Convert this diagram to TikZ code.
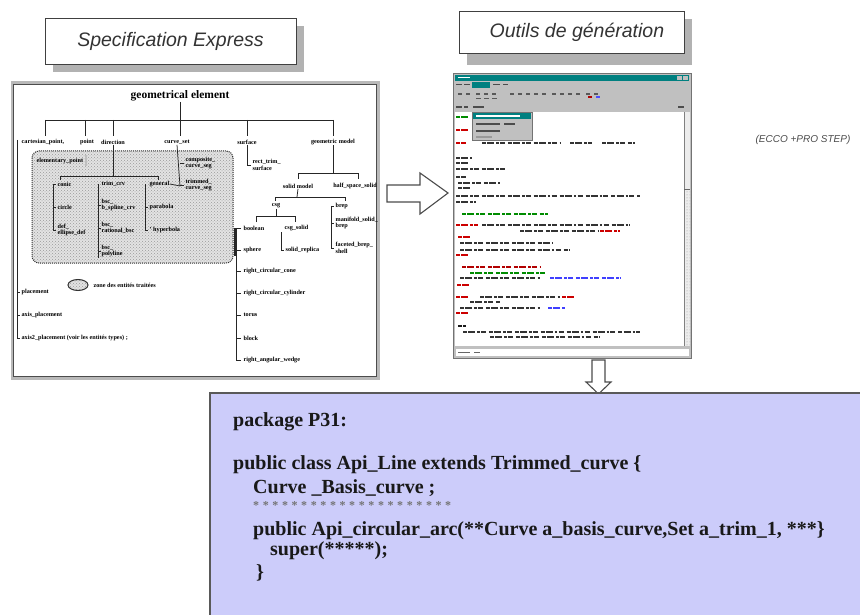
\documentclass[tikz,border=0pt]{standalone}
\usepackage{fontspec}
\setmainfont{Liberation Serif}
\newfontfamily\titlefont{Liberation Sans}
\usetikzlibrary{patterns}

\definecolor{codebg}{RGB}{204,204,250}
\definecolor{winteal}{RGB}{0,128,128}
\definecolor{wingray}{RGB}{192,192,192}

\begin{document}
\begin{tikzpicture}[x=1pt,y=-1pt,
  rootlbl/.style={font=\fontsize{11.5}{12}\selectfont\bfseries, inner sep=0.5pt},
  tl/.style={font=\fontsize{6.2}{6.4}\selectfont\bfseries, inner sep=0.4pt, align=left, anchor=west},
  tlc/.style={tl, anchor=center},
  branch/.style={line width=0.75pt, black!85},
  titlebox/.style={draw=black!75, line width=0.9pt, fill=white, inner sep=0,
    font=\titlefont\itshape\fontsize{19.5}{22}\selectfont, text=black!80},
  codeline/.style={font=\fontsize{20}{22}\selectfont\bfseries, anchor=west, inner sep=0, text=black!90},
  scr/.style={line width=1.5pt, dash pattern=on 4pt off 1.2pt on 7pt off 2pt on 2.5pt off 1.2pt on 5pt off 3pt},
  bigarrow/.style={draw=black!70, line width=1.1pt, fill=white, line join=miter},
]
\useasboundingbox (0,0) rectangle (860,615);
\clip (0,0) rectangle (860,615);
\fill[white] (0,0) rectangle (860,615);

% ---------- title boxes with drop shadows ----------
\fill[gray!60] (53,26) rectangle (304,72);
\node[titlebox, minimum width=251pt, minimum height=46pt] (spec) at (170.5,41) {Specification Express};
\fill[gray!60] (467,19) rectangle (692,65);
\node[titlebox, minimum width=225pt, minimum height=42pt, anchor=west] (gen) at (459,32) {\hspace{10pt}Outils de génération\hfill};

% ---------- schema frame ----------
\draw[gray!55, line width=3pt] (12,83) rectangle (378,378);
\draw[black!70, line width=0.6pt] (13.5,84.5) rectangle (376.5,376.5);

% shaded sub-schema zone
\fill[gray!22, rounded corners=7pt] (32,151) rectangle (233,263);
\fill[pattern=crosshatch dots, pattern color=gray!80, rounded corners=7pt] (32,151) rectangle (233,263);
\draw[black!80, line width=1pt, densely dotted, rounded corners=7pt] (32,151) rectangle (233,263);

% root and first level
\node[rootlbl] (root) at (180,96) {geometrical element};
\draw[branch] (root.south) -- (180,120);
\draw[branch] (45,120) -- (333,120);
\foreach \xx in {45,85,113,180,247,333} \draw[branch] (\xx,120) -- (\xx,136);
\node[tlc] (c1) at (43,142) {cartesian\_point,};
\node[tlc] (c2) at (87,142) {point};
\node[tlc] (c3) at (113,142) {direction};
\node[tlc] (c4) at (177,142) {curve\_set};
\node[tlc] (c5) at (247,142) {surface};
\node[tlc] (c6) at (333,142) {geometric model};

% left column under cartesian_point
\draw[branch] (17,140) -- (17,338);
\foreach \yy in {292,315,338} \draw[branch] (17,\yy) -- (20,\yy);
\node[tl] (p1) at (21,292) {placement};
\node[tl] (p2) at (21,315) {axis\_placement};
\node[tl] (p3) at (21,338) {axis2\_placement (voir les entités types) ;};

% inside the zone
\node[tl] (ep) at (36,161) {elementary\_point};
\draw[gray!50, line width=1.5pt] (86,155) -- (86,166);
\draw[branch] (c3.south) -- (113,176);
\draw[branch] (60,176) -- (158,176);
\draw[branch] (60,176) -- (60,180);
\draw[branch] (158,176) -- (158,180);
\node[tl] (k1) at (57,184) {conic};
\node[tl] (k2) at (101,184) {trim\_crv};
\node[tl] (k3) at (149,184) {general};
% conic column
\draw[branch] (53,184) -- (53,230);
\foreach \yy in {184,207,230} \draw[branch] (53,\yy) -- (56,\yy);
\node[tl] (k11) at (57,207) {circle};
\node[tl] (k12) at (57,230) {def\_\\ellipse\_def};
% trimmed column
\draw[branch] (98,184) -- (98,258);
\foreach \yy in {205,228,251} \draw[branch] (98,\yy) -- (101,\yy);
\node[tl] (k21) at (101,205) {bsc\_\\b\_spline\_crv};
\node[tl] (k22) at (101,228) {bsc\_\\rational\_bsc};
\node[tl] (k23) at (101,251) {bsc\_\\polyline};
% general column
\draw[branch] (145,184) -- (145,230);
\foreach \yy in {207,230} \draw[branch] (145,\yy) -- (148,\yy);
\node[tl] (k31) at (149,207) {parabola};
\node[tl] (k32) at (149,230) {' hyperbola};
% curve_set branch
\draw[branch] (c4.south) -- (180,186) -- (k3.east);
\foreach \yy in {163,185} \draw[branch] (180,\yy) -- (184,\yy);
\node[tl] (k41) at (185,163) {composite\_\\curve\_seg};
\node[tl] (k42) at (185,185) {trimmed\_\\curve\_seg};
% surface branch
\draw[branch] (c5.south) -- (247,165) -- (251,165);
\node[tl] (s1) at (252,165) {rect\_trim\_\\surface};

% geometric model branch
\draw[branch] (c6.south) -- (333,173);
\draw[branch] (298,179) -- (298,173) -- (358,173) -- (358,179);
\node[tlc] (m1) at (298,186) {solid model};
\node[tlc] (m2) at (355,186) {half\_space\_solid};
\draw[branch] (m1.south) -- (297,197);
\draw[branch] (275,201) -- (275,197) -- (345,197) -- (345,201);
\node[tlc] (csg) at (276,206) {csg};
\node[tl] (brep) at (335,206) {brep};
\draw[branch] (331,206) -- (331,248);
\foreach \yy in {206,223,248} \draw[branch] (331,\yy) -- (334,\yy);
\node[tl] (b2) at (335,223) {manifold\_solid\_\\brep};
\node[tl] (b3) at (335,248) {faceted\_brep\_\\shell};
\draw[branch] (csg.south) -- (276,216);
\draw[branch] (256,222) -- (256,216) -- (295,216) -- (295,222);
\node[tl] (g1) at (243,228) {boolean};
\node[tl] (g2) at (284,228) {csg\_solid};
\draw[branch] (281,232) -- (281,250) -- (284,250);
\node[tl] (g3) at (285,250) {solid\_replica};
% primitives column
\draw[branch] (236,228) -- (236,360);
\draw[branch, line width=1.4pt] (235,228) -- (235,256);
\foreach \yy in {228,250,271,293,315,338,360} \draw[branch] (236,\yy) -- (241,\yy);
\node[tl] (q1) at (243,250) {sphere};
\node[tl] (q2) at (243,271) {right\_circular\_cone};
\node[tl] (q3) at (243,293) {right\_circular\_cylinder};
\node[tl] (q4) at (243,315) {torus};
\node[tl] (q5) at (243,338) {block};
\node[tl] (q6) at (243,360) {right\_angular\_wedge};

% legend
\fill[gray!22] (78,285) ellipse [x radius=10, y radius=5.5];
\fill[pattern=crosshatch dots, pattern color=gray!80] (78,285) ellipse [x radius=10, y radius=5.5];
\draw[black!80, line width=1pt] (78,285) ellipse [x radius=10, y radius=5.5];
\node[tl] (leg) at (93,285) {zone des entités traitées};

% ---------- arrow to the tool ----------
\draw[bigarrow] (387,185) -- (420,185) -- (420,173) -- (448,193) -- (420,214) -- (420,202) -- (387,202) -- cycle;

% ---------- generation tool window ----------
\fill[wingray] (453,73) rectangle (691,358);
\draw[black!55, line width=0.6pt] (453,73) rectangle (691,358);
\fill[winteal] (455,75) rectangle (689,81);
\draw[white, line width=1pt] (458,78) -- (470,78);
\fill[wingray] (677,76) rectangle (682,80);
\fill[wingray] (683,76) rectangle (688,80);
% menu bar
\fill[winteal] (472,82) rectangle (490,88);
\foreach \xa/\xb in {456/462,464/470,493/500,503/508}
  \draw[black!70, line width=1pt] (\xa,85) -- (\xb,85);
% tool bar
\foreach \xa in {458,466,476,484,492,510,518,526,534,542,552,560,568,576,586,594}
  \draw[black!65, line width=1.6pt] (\xa,94) -- (\xa+4,94);
\draw[red!70!black, line width=1.6pt] (588,97) -- (592,97);
\draw[blue!70, line width=1.6pt] (596,97) -- (600,97);
\foreach \xa in {476,484,492}
  \draw[black!65, line width=1pt] (\xa,99) -- (\xa+5,99);
% label row
\foreach \xa/\xb in {456/462,464/468,473/484}
  \draw[black!70, line width=1.2pt] (\xa,107) -- (\xb,107);
\draw[black!70, line width=1.2pt] (678,107) -- (684,107);
% editor area
\fill[white] (455,112) rectangle (684,346);
\fill[white!85!gray] (684,112) rectangle (690,346);
\fill[pattern=dots, pattern color=gray!80] (684,190) rectangle (690,346);
\draw[black!50, line width=0.5pt] (684,112) -- (684,346);
\draw[black!60, line width=1pt] (684,190) -- (690,190);
% status bar
\fill[white] (456,349) rectangle (689,356);
\draw[black!60, line width=1pt] (458,352.5) -- (470,352.5);
\draw[black!60, line width=1pt] (474,352.5) -- (480,352.5);
% source listing (illegible at this scale)
\foreach \yy/\xa/\xb/\cc in {
  117/456/470/green!55!black, 130/456/468/red!80!black,
  143/456/466/red!80!black, 143/482/560/black!80, 143/570/592/black!80, 143/602/635/black!80,
  158/456/472/black!80, 163/456/470/black!80, 169/456/505/black!80,
  177/456/466/black!80, 183/458/500/black!80, 188/458/470/black!80,
  196/456/640/black!80, 202/456/476/black!80,
  214/462/548/green!55!black,
  225/456/478/red!80!black, 225/482/630/black!80,
  231/520/598/black!80, 231/600/620/red!80!black,
  237/458/470/red!80!black, 243/460/552/black!80, 250/460/570/black!80,
  255/456/470/red!80!black,
  267/462/540/red!70!black, 273/470/545/green!55!black,
  278/460/540/black!80, 278/550/620/blue!75,
  285/457/470/red!80!black,
  297/456/470/red!80!black, 297/480/560/black!80, 297/562/575/red!80!black,
  302/470/500/black!80, 308/460/540/black!80, 308/548/565/blue!75,
  313/456/470/red!80!black,
  326/458/466/black!90, 332/463/640/black!80, 337/490/600/black!80}
  \draw[\cc, scr] (\xa,\yy) -- (\xb,\yy);
% open menu
\fill[wingray] (472,112) rectangle (532,140);
\draw[black!55, line width=0.5pt] (472,112) rectangle (532,140);
\fill[winteal] (473,113) rectangle (531,119);
\draw[white, line width=1.2pt] (476,116) -- (520,116);
\draw[black!70, line width=1.2pt] (476,124) -- (500,124);
\draw[black!70, line width=1.2pt] (504,124) -- (515,124);
\draw[black!70, line width=1.2pt] (476,131) -- (500,131);
\draw[black!40, line width=1.2pt] (476,137) -- (492,137);

\node[font=\titlefont\itshape\fontsize{10}{12}\selectfont, text=black!70] (ecco) at (803,140) {(ECCO +PRO STEP)};

% ---------- arrow down to the generated code ----------
\draw[bigarrow] (592,360) -- (605,360) -- (605,382) -- (611,382) -- (598.5,394) -- (586,382) -- (592,382) -- cycle;

% ---------- generated Java code ----------
\draw[fill=codebg, draw=black!65, line width=1.2pt] (210,393) rectangle (880,630);
\node[codeline] (l1) at (233,422) {package P31:};
\node[codeline] (l2) at (233,465) {public class Api\_Line extends Trimmed\_curve \{};
\node[codeline] (l3) at (253,488) {Curve \_Basis\_curve ;};
\node[codeline, font=\fontsize{12}{12}\selectfont\bfseries, text=black!55] (l4) at (253,506)
  {\foreach \i in {1,...,21}{*\kern3.6pt}};
\node[codeline] (l5) at (253,531) {public Api\_circular\_arc(**Curve a\_basis\_curve,Set a\_trim\_1, ***\}};
\node[codeline] (l6) at (270,551) {super(*****);};
\node[codeline] (l7) at (256,573) {\}};
\end{tikzpicture}
\end{document}
